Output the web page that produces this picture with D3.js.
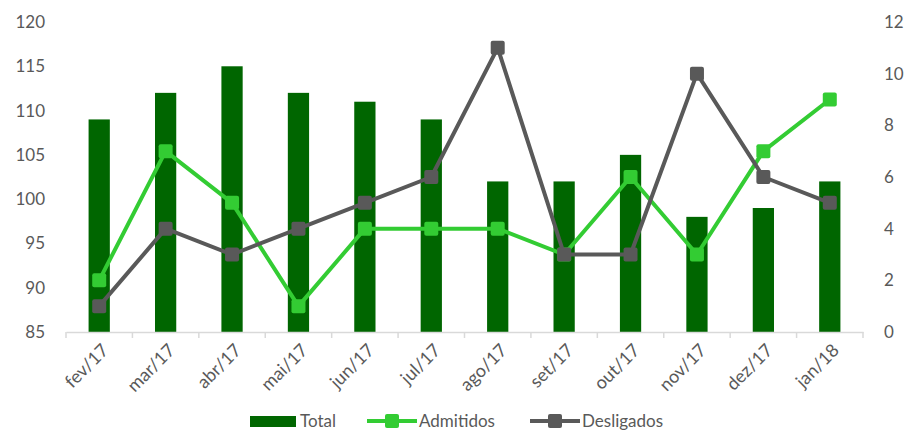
<!DOCTYPE html>
<html>
<head>
<meta charset="utf-8">
<script src="https://cdn.jsdelivr.net/npm/d3@7"></script>
<style>
  body { margin: 0; background: #fff; }
  svg text { font-family: Lato, "Open Sans", sans-serif; fill: #595959; }
</style>
</head>
<body>
<div id="chart"></div>
<script>
const months = ["fev/17", "mar/17", "abr/17", "mai/17", "jun/17", "jul/17", "ago/17", "set/17", "out/17", "nov/17", "dez/17", "jan/18"];
const total = [109, 112, 115, 112, 111, 109, 102, 102, 105, 98, 99, 102];
const admitidos = [2, 7, 5, 1, 4, 4, 4, 3, 6, 3, 7, 9];
const desligados = [1, 4, 3, 4, 5, 6, 11, 3, 3, 10, 6, 5];
const leftTicks = [85, 90, 95, 100, 105, 110, 115, 120];
const rightTicks = [0, 2, 4, 6, 8, 10, 12];

const width = 909, height = 430;
const margin = { top: 22, right: 46, bottom: 98, left: 66 };

const svg = d3.select("#chart").append("svg")
  .attr("width", width)
  .attr("height", height);

const x = d3.scaleBand().domain(months).range([margin.left, width - margin.right]);
const yL = d3.scaleLinear().domain([85, 120]).range([height - margin.bottom, margin.top]);
const yR = d3.scaleLinear().domain([0, 12]).range([height - margin.bottom, margin.top]);

// bars
const barW = x.bandwidth() * 0.32;
svg.append("g").selectAll("rect").data(months).join("rect")
  .attr("x", d => x(d) + x.bandwidth() / 2 - barW / 2)
  .attr("y", (d, i) => yL(total[i]))
  .attr("width", barW)
  .attr("height", (d, i) => yL(85) - yL(total[i]))
  .attr("fill", "#006600");

// x axis
const xAxis = svg.append("g")
  .attr("transform", `translate(0,${yL(85)})`)
  .call(d3.axisBottom(x).tickSize(0));
xAxis.select(".domain").attr("stroke", "#d9d9d9").attr("stroke-width", 1.5);
xAxis.selectAll("text")
  .attr("font-size", 18)
  .attr("text-anchor", "end")
  .attr("x", 0).attr("y", 0)
  .attr("dy", "0.35em")
  .attr("transform", "translate(6,15) rotate(-45)");
// category boundary ticks
const bounds = months.map(d => x(d)).concat([x.range()[1]]);
xAxis.append("g").selectAll("line").data(bounds).join("line")
  .attr("x1", d => d).attr("x2", d => d)
  .attr("y1", 0).attr("y2", 6)
  .attr("stroke", "#d9d9d9").attr("stroke-width", 1.5);

// left axis
const yAxisL = svg.append("g")
  .attr("transform", `translate(${margin.left - 18},0)`)
  .call(d3.axisLeft(yL).tickValues(leftTicks).tickSize(0));
yAxisL.select(".domain").remove();
yAxisL.selectAll("text").attr("font-size", 17);

// right axis
const yAxisR = svg.append("g")
  .attr("transform", `translate(${width - margin.right + 18},0)`)
  .call(d3.axisRight(yR).tickValues(rightTicks).tickSize(0));
yAxisR.select(".domain").remove();
yAxisR.selectAll("text").attr("font-size", 17);

function drawLine(values, color) {
  const line = d3.line()
    .x((d, i) => x(months[i]) + x.bandwidth() / 2)
    .y(d => yR(d));
  svg.append("path")
    .attr("d", line(values))
    .attr("fill", "none")
    .attr("stroke", color)
    .attr("stroke-width", 4)
    .attr("stroke-linejoin", "round");
  svg.append("g").selectAll("rect").data(values).join("rect")
    .attr("x", (d, i) => x(months[i]) + x.bandwidth() / 2 - 7)
    .attr("y", d => yR(d) - 7)
    .attr("width", 14).attr("height", 14)
    .attr("rx", 2)
    .attr("fill", color);
}
drawLine(admitidos, "#33cc33");
drawLine(desligados, "#595959");

// legend (sits at the bottom edge, as in the original)
const leg = svg.append("g");
const ly = 421;
leg.append("rect").attr("x", 250).attr("y", ly - 5).attr("width", 46).attr("height", 11).attr("fill", "#006600");
leg.append("text").attr("x", 300).attr("y", ly).attr("dy", "0.35em").attr("font-size", 17).text("Total");

[[367, "#33cc33", "Admitidos"], [530, "#595959", "Desligados"]].forEach(([lx, c, t]) => {
  leg.append("line").attr("x1", lx).attr("x2", lx + 50).attr("y1", ly).attr("y2", ly)
    .attr("stroke", c).attr("stroke-width", 4);
  leg.append("rect").attr("x", lx + 18).attr("y", ly - 7).attr("width", 14).attr("height", 14).attr("rx", 2).attr("fill", c);
  leg.append("text").attr("x", lx + 52).attr("y", ly).attr("dy", "0.35em").attr("font-size", 17).text(t);
});
</script>
</body>
</html>
